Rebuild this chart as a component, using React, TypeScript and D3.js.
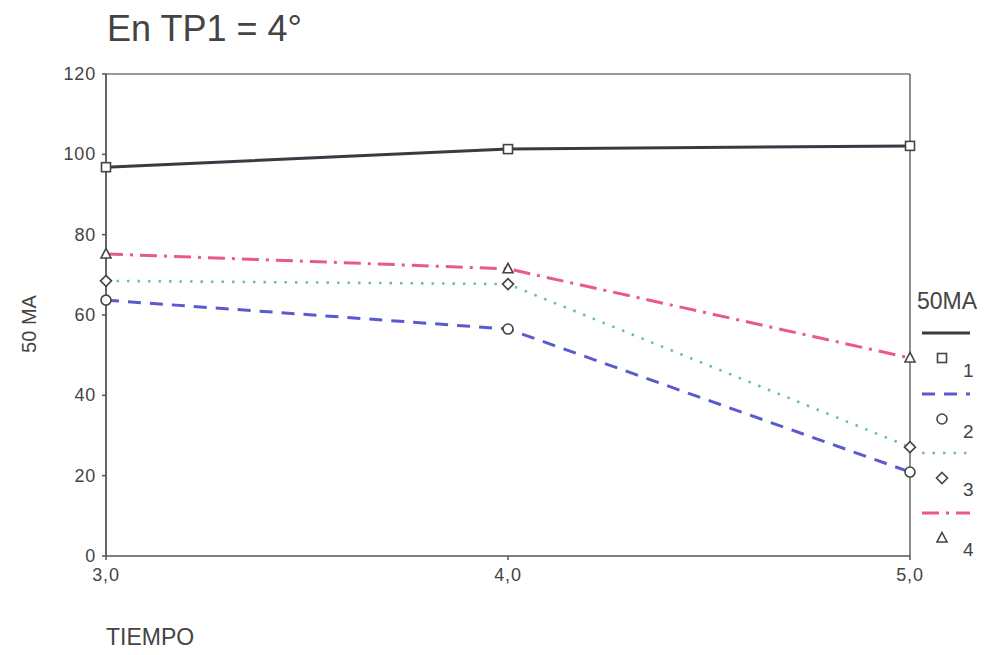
import React from "react";
import * as d3 from "d3";

const tiempo = [3, 4, 5];
const xTickLabels = ["3,0", "4,0", "5,0"];
const yTicks = [0, 20, 40, 60, 80, 100, 120];
const seriesNames = ["1", "2", "3", "4"];
const s1 = [96.8, 101.3, 102.1];
const s2 = [63.7, 56.5, 20.9];
const s3 = [68.5, 67.7, 27.1];
const s4 = [75.2, 71.5, 49.3];

const seriesVals = [s1, s2, s3, s4];
const styles = [
  { color: "#3a3a44", width: 3, dash: "", marker: "square" },
  { color: "#5a5ad0", width: 3, dash: "13,9", marker: "circle" },
  { color: "#6cc0a0", width: 2.6, dash: "2.5,8", marker: "diamond" },
  { color: "#ea5a86", width: 3, dash: "17,7,3,7", marker: "triangle" },
];

const font = "'Liberation Sans', Arial, sans-serif";

function Marker({ type, x, y }: { type: string; x: number; y: number }) {
  const c = "#444";
  const sw = 1.6;
  if (type === "square")
    return <rect x={x - 4.5} y={y - 4.5} width={9} height={9} fill="white" stroke={c} strokeWidth={sw} />;
  if (type === "circle") return <circle cx={x} cy={y} r={5} fill="white" stroke={c} strokeWidth={sw} />;
  if (type === "diamond")
    return (
      <path d={`M${x},${y - 5.5}L${x + 5.5},${y}L${x},${y + 5.5}L${x - 5.5},${y}Z`} fill="white" stroke={c} strokeWidth={sw} />
    );
  return <path d={`M${x},${y - 5.5}L${x + 5},${y + 4}L${x - 5},${y + 4}Z`} fill="white" stroke={c} strokeWidth={sw} />;
}

export default function App() {
  const W = 986,
    H = 655;
  const x = d3.scaleLinear().domain([3, 5]).range([106, 910]);
  const y = d3.scaleLinear().domain([0, 120]).range([556, 74]);
  const line = d3
    .line<number>()
    .x((_, i) => x(tiempo[i]))
    .y((d) => y(d));

  const legendY = [333, 394, 453, 513];
  const markerY = [358, 419, 478, 538];
  const numY = [377, 438, 496, 556];

  return (
    <svg width={W} height={H} style={{ position: "absolute", left: 0, top: 0, background: "white" }}>
      <rect width={W} height={H} fill="white" />
      <text x={107} y={41} fontSize={36} fill="#444" fontFamily={font}>
        En TP1 = 4°
      </text>
      {/* frame */}
      <line x1={x(3)} x2={x(5)} y1={y(120)} y2={y(120)} stroke="#777" strokeWidth={1.5} />
      <line x1={x(5)} x2={x(5)} y1={y(120)} y2={y(0)} stroke="#666" strokeWidth={1.5} />
      <line x1={x(3)} x2={x(5)} y1={y(0)} y2={y(0)} stroke="#555" strokeWidth={1.5} />
      <line x1={x(3)} x2={x(3)} y1={y(120)} y2={y(0)} stroke="#555" strokeWidth={1.8} />
      {yTicks.map((t) => (
        <g key={t}>
          <line x1={x(3) - 4} x2={x(3)} y1={y(t)} y2={y(t)} stroke="#555" strokeWidth={1.5} />
          <text
            x={x(3) - 10}
            y={y(t) + 6}
            fontSize={18}
            letterSpacing={0.8}
            textAnchor="end"
            fill="#444"
            fontFamily={font}
          >
            {t}
          </text>
        </g>
      ))}
      {tiempo.map((t, i) => (
        <g key={t}>
          <line x1={x(t)} x2={x(t)} y1={y(0)} y2={y(0) + 4} stroke="#555" strokeWidth={1.5} />
          <text
            x={x(t)}
            y={y(0) + 25}
            fontSize={18}
            letterSpacing={0.8}
            textAnchor="middle"
            fill="#444"
            fontFamily={font}
          >
            {xTickLabels[i]}
          </text>
        </g>
      ))}
      <text x={106} y={645} fontSize={23} fill="#444" fontFamily={font}>
        TIEMPO
      </text>
      <text
        transform={`translate(36,${324}) rotate(-90)`}
        fontSize={20}
        textAnchor="middle"
        fill="#444"
        fontFamily={font}
      >
        50 MA
      </text>
      {seriesVals.map((vals, i) => (
        <g key={i}>
          <path
            d={line(vals) || ""}
            fill="none"
            stroke={styles[i].color}
            strokeWidth={styles[i].width}
            strokeDasharray={styles[i].dash}
          />
          {vals.map((v, j) => (
            <Marker key={j} type={styles[i].marker} x={x(tiempo[j])} y={y(v)} />
          ))}
        </g>
      ))}
      {/* legend */}
      <text x={917} y={309} fontSize={23} fill="#444" fontFamily={font}>
        50MA
      </text>
      {seriesNames.map((n, i) => (
        <g key={n}>
          <line
            x1={922}
            x2={970}
            y1={legendY[i]}
            y2={legendY[i]}
            stroke={styles[i].color}
            strokeWidth={styles[i].width}
            strokeDasharray={styles[i].dash}
          />
          <Marker type={styles[i].marker} x={942} y={markerY[i]} />
          <text x={963} y={numY[i]} fontSize={19} fill="#444" fontFamily={font}>
            {n}
          </text>
        </g>
      ))}
    </svg>
  );
}
